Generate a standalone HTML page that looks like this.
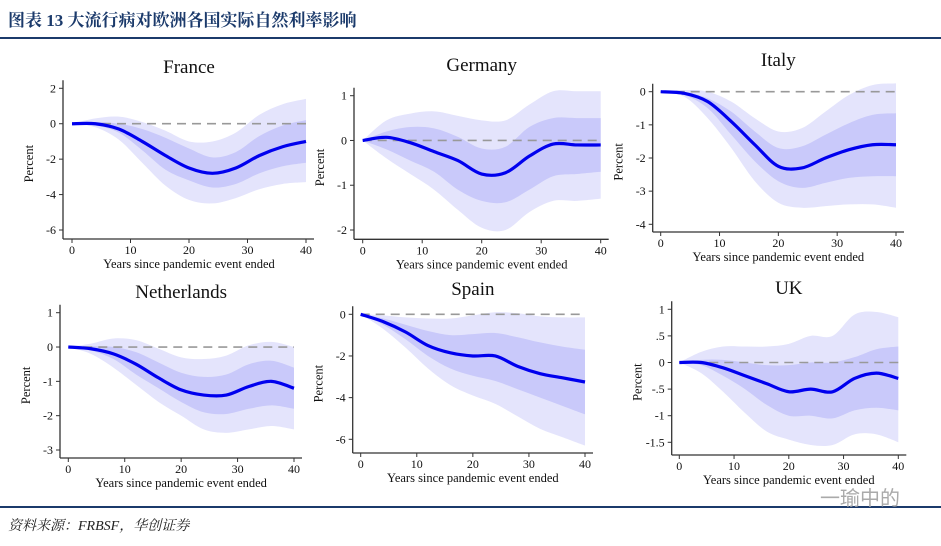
<!DOCTYPE html>
<html><head><meta charset="utf-8">
<style>
body{margin:0;background:#fff;width:941px;height:541px;overflow:hidden;font-family:"Liberation Serif","Noto Serif CJK SC",serif}
</style></head><body>
<svg id="s" width="941" height="541" xmlns="http://www.w3.org/2000/svg">
<text x="8" y="26" font-size="17" font-weight="bold" fill="#1b3a6b" font-family="'Liberation Serif','Noto Serif CJK SC',serif">图表 13 大流行病对欧洲各国实际自然利率影响</text>
<line x1="0" y1="38" x2="941" y2="38" stroke="#1b3a6b" stroke-width="2"/>
<line x1="0" y1="507" x2="941" y2="507" stroke="#1b3a6b" stroke-width="2"/>
<text x="8" y="530" font-size="14" font-style="italic" fill="#222" font-family="'Liberation Serif','Noto Serif CJK SC',serif">资料来源：FRBSF，华创证券</text>
<text x="820" y="505" font-size="20" fill="#aaa" font-family="'Liberation Sans','Noto Sans CJK SC',sans-serif">一瑜中的</text>
</svg>
<script>
const years=[0,4,8,12,16,20,24,28,32,36,40];
const xTicks=[0,10,20,30,40];
const franceMean=[0,0,-0.3,-1.0,-1.8,-2.5,-2.8,-2.5,-1.8,-1.3,-1.0];
const franceInHi=[0,0.1,0,-0.3,-0.8,-1.4,-1.9,-1.6,-0.7,-0.1,0.2];
const franceInLo=[0,-0.1,-0.5,-1.5,-2.6,-3.2,-3.6,-3.4,-2.8,-2.4,-2.2];
const franceOutHi=[0,0.3,0.4,0.1,-0.4,-1.0,-1.0,-0.5,0.5,1.1,1.4];
const franceOutLo=[0,-0.2,-0.9,-2.2,-3.5,-4.3,-4.5,-4.2,-3.7,-3.4,-3.3];
const germanyMean=[0,0.07,-0.05,-0.25,-0.45,-0.75,-0.72,-0.35,-0.08,-0.1,-0.1];
const germanyInHi=[0,0.2,0.3,0.27,0.08,-0.18,-0.14,0.3,0.5,0.5,0.5];
const germanyInLo=[0,-0.2,-0.45,-0.7,-1.1,-1.35,-1.38,-1.1,-0.8,-0.75,-0.7];
const germanyOutHi=[0,0.45,0.6,0.65,0.55,0.45,0.45,0.8,1.1,1.1,1.1];
const germanyOutLo=[0,-0.4,-0.75,-1.1,-1.55,-1.95,-2.0,-1.6,-1.35,-1.35,-1.3];
const italyMean=[0,-0.05,-0.3,-0.9,-1.6,-2.25,-2.3,-2.0,-1.75,-1.6,-1.6];
const italyInHi=[0,0,-0.2,-0.6,-1.2,-1.7,-1.65,-1.3,-0.95,-0.7,-0.65];
const italyInLo=[0,-0.1,-0.5,-1.3,-2.1,-2.7,-2.9,-2.75,-2.6,-2.55,-2.55];
const italyOutHi=[0,0.05,0,-0.3,-0.8,-1.2,-1.1,-0.6,-0.1,0.2,0.25];
const italyOutLo=[0,-0.15,-0.8,-1.7,-2.7,-3.35,-3.5,-3.45,-3.4,-3.4,-3.5];
const nethMean=[0,-0.05,-0.2,-0.5,-0.9,-1.25,-1.4,-1.4,-1.15,-1.0,-1.2];
const nethInHi=[0,0.02,0,-0.15,-0.45,-0.75,-0.87,-0.8,-0.5,-0.4,-0.6];
const nethInLo=[0,-0.1,-0.35,-0.8,-1.2,-1.6,-1.9,-1.95,-1.8,-1.7,-1.8];
const nethOutHi=[0,0.1,0.25,0.2,-0.05,-0.3,-0.35,-0.25,0.05,0.15,0.0];
const nethOutLo=[0,-0.2,-0.6,-1.1,-1.6,-2.0,-2.4,-2.5,-2.4,-2.3,-2.4];
const spainMean=[0,-0.35,-0.85,-1.5,-1.85,-2.0,-2.0,-2.5,-2.85,-3.05,-3.25];
const spainInHi=[0,-0.2,-0.5,-0.8,-1.0,-0.95,-0.9,-1.1,-1.35,-1.55,-1.7];
const spainInLo=[0,-0.5,-1.2,-2.0,-2.6,-2.95,-3.2,-3.6,-4.0,-4.4,-4.8];
const spainOutHi=[0,-0.05,-0.15,-0.2,-0.2,-0.05,0.1,0.05,-0.1,-0.15,-0.15];
const spainOutLo=[0,-0.7,-1.6,-2.6,-3.4,-3.9,-4.3,-4.9,-5.5,-5.9,-6.3];
const ukMean=[0,0,-0.1,-0.25,-0.4,-0.55,-0.5,-0.55,-0.3,-0.2,-0.3];
const ukInHi=[0,0.05,0.05,0,-0.05,-0.05,0,0,0.1,0.25,0.3];
const ukInLo=[0,-0.05,-0.25,-0.5,-0.8,-1.0,-1.0,-1.05,-0.9,-0.85,-0.9];
const ukOutHi=[0,0.2,0.3,0.3,0.3,0.35,0.5,0.5,0.9,0.95,0.85];
const ukOutLo=[0,-0.2,-0.55,-0.95,-1.3,-1.45,-1.55,-1.55,-1.35,-1.35,-1.5];
const franceTicks=[2,0,-2,-4,-6];
const germanyTicks=[1,0,-1,-2];
const italyTicks=[0,-1,-2,-3,-4];
const nethTicks=[1,0,-1,-2,-3];
const spainTicks=[0,-2,-4,-6];
const ukTicks=[1,0.5,0,-0.5,-1,-1.5];
const ukTickLabels=["1",".5","0","-.5","-1","-1.5"];

const NS="http://www.w3.org/2000/svg";
const svg=document.getElementById('s');
function mk(tag,attrs,parent){const e=document.createElementNS(NS,tag);for(const k in attrs)e.setAttribute(k,attrs[k]);(parent||svg).appendChild(e);return e;}
function smooth(pts){let d='M'+pts[0][0]+','+pts[0][1];for(let i=0;i<pts.length-1;i++){const p0=pts[Math.max(0,i-1)],p1=pts[i],p2=pts[i+1],p3=pts[Math.min(pts.length-1,i+2)];d+=' C'+(p1[0]+(p2[0]-p0[0])/6)+','+(p1[1]+(p2[1]-p0[1])/6)+' '+(p2[0]-(p3[0]-p1[0])/6)+','+(p2[1]-(p3[1]-p1[1])/6)+' '+p2[0]+','+p2[1];}return d;}
function panel(c){
  const g=mk('g',{});
  
  
  const X=v=>c.x0+(c.x1-c.x0)*v/40;
  const Y=v=>c.ya+(c.yb-c.ya)*(v-c.va)/(c.vb-c.va);
  const band=(hi,lo,fill,name)=>{
    const top=years.map((y,i)=>[X(y),Y(hi[i])]);
    const bot=years.map((y,i)=>[X(y),Y(lo[i])]).reverse();
    const d=smooth(top)+' L'+smooth(bot).slice(1)+' Z';
    const p=mk('path',{d:d,fill:fill},g);
    
    
  };
  band(c.oh,c.ol,'#e4e4fc',c.id+'-outer-band');
  band(c.ih,c.il,'#c9c9fa',c.id+'-inner-band');
  const z=mk('line',{x1:X(0),x2:X(40),y1:Y(0),y2:Y(0),stroke:'#999','stroke-width':1.6,'stroke-dasharray':'9,6'},g);
  
  
  const m=mk('path',{d:smooth(years.map((y,i)=>[X(y),Y(c.m[i])])),fill:'none',stroke:'#0000ee','stroke-width':3.2},g);
  
  
  const ax=c.ax, ay=c.ay;
  const yl=mk('line',{x1:ax,x2:ax,y1:Y(c.ticks[0])-8,y2:ay,stroke:'#333','stroke-width':1.3},g);
  
  
  const xl=mk('line',{x1:ax,x2:X(40)+8,y1:ay,y2:ay,stroke:'#333','stroke-width':1.3},g);
  
  
  c.ticks.forEach((t,i)=>{
    mk('line',{x1:ax-4,x2:ax,y1:Y(t),y2:Y(t),stroke:'#333'},g);
    const tx=mk('text',{x:ax-7,y:Y(t)+4,'font-size':12,'text-anchor':'end',fill:'#111'},g);
    tx.textContent=c.labels?c.labels[i]:String(t);
    
    
  });
  xTicks.forEach(t=>{
    mk('line',{x1:X(t),x2:X(t),y1:ay,y2:ay+4,stroke:'#333'},g);
    const tx=mk('text',{x:X(t),y:ay+15,'font-size':12,'text-anchor':'middle',fill:'#111'},g);
    tx.textContent=String(t);
    
    
  });
  const xt=mk('text',{x:(X(0)+X(40))/2,y:ay+29,'font-size':12.5,'text-anchor':'middle',fill:'#111'},g);
  xt.textContent='Years since pandemic event ended';
  
  
  const cy=(Y(c.ticks[0])+ay)/2;
  const pt=mk('text',{x:ax-30,y:cy,'font-size':12.5,'text-anchor':'middle',fill:'#111',transform:'rotate(-90 '+(ax-30)+' '+cy+')'},g);
  pt.textContent='Percent';
  
  
  const tt=mk('text',{x:(X(0)+X(40))/2,y:c.ty,'font-size':19,'text-anchor':'middle',fill:'#111'},g);
  tt.textContent=c.title;
  
  
}
panel({id:'france',title:'France',x0:72,x1:306,va:2,ya:88.3,vb:-6,yb:230,ax:63,ay:239,ty:73,ticks:franceTicks,m:franceMean,ih:franceInHi,il:franceInLo,oh:franceOutHi,ol:franceOutLo});
panel({id:'germany',title:'Germany',x0:362.7,x1:600.7,va:1,ya:95.7,vb:-2,yb:230,ax:354,ay:239.3,ty:71,ticks:germanyTicks,m:germanyMean,ih:germanyInHi,il:germanyInLo,oh:germanyOutHi,ol:germanyOutLo});
panel({id:'italy',title:'Italy',x0:660.7,x1:896,va:0,ya:91.7,vb:-4,yb:224.3,ax:652.7,ay:232,ty:66,ticks:italyTicks,m:italyMean,ih:italyInHi,il:italyInLo,oh:italyOutHi,ol:italyOutLo});
panel({id:'netherlands',title:'Netherlands',x0:68.3,x1:294,va:1,ya:312.7,vb:-3,yb:450,ax:60,ay:458,ty:298,ticks:nethTicks,m:nethMean,ih:nethInHi,il:nethInLo,oh:nethOutHi,ol:nethOutLo});
panel({id:'spain',title:'Spain',x0:360.7,x1:585,va:0,ya:314.3,vb:-6,yb:439.3,ax:352.7,ay:453,ty:295,ticks:spainTicks,m:spainMean,ih:spainInHi,il:spainInLo,oh:spainOutHi,ol:spainOutLo});
panel({id:'uk',title:'UK',x0:679.3,x1:898.3,va:1,ya:309.3,vb:-1.5,yb:442.3,ax:671.7,ay:455,ty:294,ticks:ukTicks,labels:ukTickLabels,m:ukMean,ih:ukInHi,il:ukInLo,oh:ukOutHi,ol:ukOutLo});
</script>
</body></html>
